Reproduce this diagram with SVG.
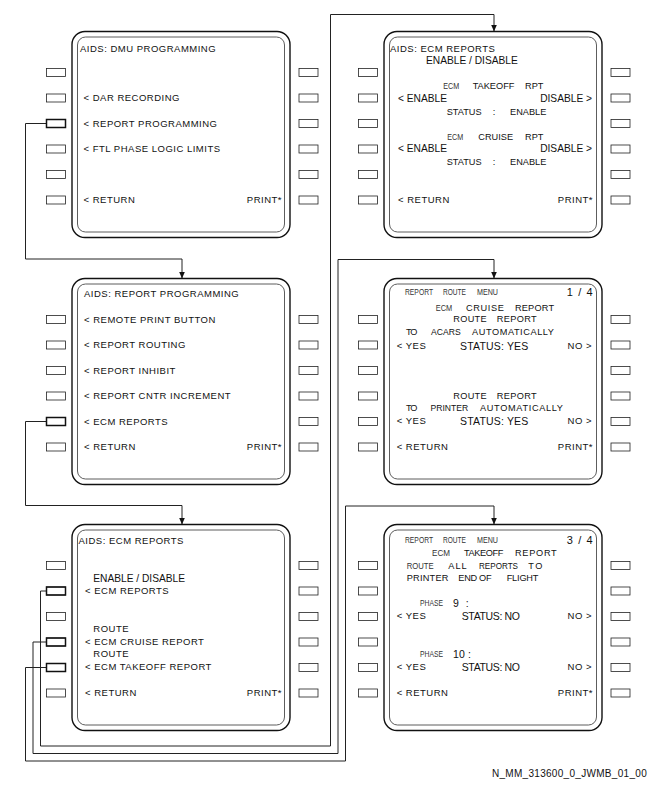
<svg xmlns="http://www.w3.org/2000/svg" xmlns:xlink="http://www.w3.org/1999/xlink" width="648" height="792" viewBox="0 0 648 792">
<style>
text{font-family:"Liberation Sans",Arial,Helvetica,sans-serif;fill:#111}
.t{font-size:9.5px;letter-spacing:0.5px}
.m{font-size:9.2px}
.l{font-size:10.2px}
.b{font-size:10.5px}
.s{font-size:8.6px;fill:#333}
.e{text-anchor:end}
.ob{fill:none;stroke:#111;stroke-width:1.4}
.ib{fill:none;stroke:#333;stroke-width:0.8}
.btn{fill:#fff;stroke:#222;stroke-width:0.8}
.act{fill:none;stroke:#111;stroke-width:1.5}
.cn{fill:none;stroke:#222;stroke-width:1}
</style>
<defs>
<marker id="ah" markerUnits="userSpaceOnUse" markerWidth="7" markerHeight="6" refX="7" refY="3" orient="auto">
<path d="M0,0 L7,3 L0,6 z" fill="#111"/>
</marker>
<g id="bezel">
<rect class="ob" x="0" y="0" width="218" height="206" rx="13"/>
<rect class="ib" x="5.5" y="5.5" width="207" height="195" rx="8"/>
<rect class="btn" x="-25.5" y="37" width="19" height="8"/>
<rect class="btn" x="-25.5" y="62.5" width="19" height="8"/>
<rect class="btn" x="-25.5" y="88" width="19" height="8"/>
<rect class="btn" x="-25.5" y="113.5" width="19" height="8"/>
<rect class="btn" x="-25.5" y="139" width="19" height="8"/>
<rect class="btn" x="-25.5" y="164.5" width="19" height="8"/>
<rect class="btn" x="227" y="37" width="19" height="8"/>
<rect class="btn" x="227" y="62.5" width="19" height="8"/>
<rect class="btn" x="227" y="88" width="19" height="8"/>
<rect class="btn" x="227" y="113.5" width="19" height="8"/>
<rect class="btn" x="227" y="139" width="19" height="8"/>
<rect class="btn" x="227" y="164.5" width="19" height="8"/>
</g>
</defs>
<rect width="648" height="792" fill="#fff"/>

<g id="connectors">
<path class="cn" d="M46.5,123.5 H25.5 V259 H182 V278.5" marker-end="url(#ah)"/>
<path class="cn" d="M46.5,421.5 H25.5 V505.5 H182 V524.5" marker-end="url(#ah)"/>
<path class="cn" d="M46.5,591 H40.5 V746 H330.5 V14.5 H494 V31.5" marker-end="url(#ah)"/>
<path class="cn" d="M46.5,642 H33 V753.5 H338 V259.5 H494 V278.5" marker-end="url(#ah)"/>
<path class="cn" d="M46.5,667.5 H25.5 V761 H345.5 V506 H494 V524.5" marker-end="url(#ah)"/>
</g>

<g id="panel-dmu-programming">
<use xlink:href="#bezel" href="#bezel" transform="translate(72,31.5)"/>
<rect class="act" x="46.5" y="119.5" width="19" height="8"/>
<text class="t" x="80" y="52.4">AIDS: DMU PROGRAMMING</text>
<text class="t" x="83.5" y="101.4">&lt; DAR RECORDING</text>
<text class="t" x="83.5" y="126.9">&lt; REPORT PROGRAMMING</text>
<text class="t" x="83.5" y="152.4">&lt; FTL PHASE LOGIC LIMITS</text>
<text class="t" x="83.5" y="203.4">&lt; RETURN</text>
<text class="t e" x="282" y="203.4">PRINT*</text>
</g>

<g id="panel-ecm-reports-enable">
<use xlink:href="#bezel" href="#bezel" transform="translate(384,31.5)"/>
<text class="t" x="390" y="51.7">AIDS: ECM REPORTS</text>
<text class="l" x="426" y="63.7">ENABLE / DISABLE</text>
<text class="s" x="443.3" y="89.4" textLength="16" lengthAdjust="spacingAndGlyphs">ECM</text>
<text class="m" x="472.7" y="89.4">TAKEOFF</text>
<text class="m" x="525" y="89.4">RPT</text>
<text class="l" x="398" y="102">&lt; ENABLE</text>
<text class="l e" x="592" y="102">DISABLE &gt;</text>
<text class="m" x="446.7" y="115.1">STATUS</text>
<text class="m" x="492.7" y="115.1">:</text>
<text class="m" x="510" y="115.1">ENABLE</text>
<text class="s" x="447.3" y="140.1" textLength="16" lengthAdjust="spacingAndGlyphs">ECM</text>
<text class="m" x="478.3" y="140.1">CRUISE</text>
<text class="m" x="525" y="140.1">RPT</text>
<text class="l" x="398" y="152">&lt; ENABLE</text>
<text class="l e" x="592" y="152">DISABLE &gt;</text>
<text class="m" x="446.7" y="165.1">STATUS</text>
<text class="m" x="492.7" y="165.1">:</text>
<text class="m" x="510" y="165.1">ENABLE</text>
<text class="t" x="398" y="203.4">&lt; RETURN</text>
<text class="t e" x="593" y="203.4">PRINT*</text>
</g>

<g id="panel-report-programming">
<use xlink:href="#bezel" href="#bezel" transform="translate(72,278.5)"/>
<rect class="act" x="46.5" y="417.5" width="19" height="8"/>
<text class="t" x="84" y="296.7">AIDS: REPORT PROGRAMMING</text>
<text class="t" x="84" y="322.9">&lt; REMOTE PRINT BUTTON</text>
<text class="t" x="84" y="348.4">&lt; REPORT ROUTING</text>
<text class="t" x="84" y="373.9">&lt; REPORT INHIBIT</text>
<text class="t" x="84" y="399.4">&lt; REPORT CNTR INCREMENT</text>
<text class="t" x="84" y="424.9">&lt; ECM REPORTS</text>
<text class="t" x="84" y="450.4">&lt; RETURN</text>
<text class="t e" x="282" y="450.4">PRINT*</text>
</g>

<g id="panel-route-menu-1">
<use xlink:href="#bezel" href="#bezel" transform="translate(384,278.5)"/>
<text class="s" x="405" y="295" textLength="28" lengthAdjust="spacingAndGlyphs">REPORT</text>
<text class="s" x="443" y="295" textLength="23" lengthAdjust="spacingAndGlyphs">ROUTE</text>
<text class="s" x="477" y="295" textLength="21" lengthAdjust="spacingAndGlyphs">MENU</text>
<text class="b" x="566.7" y="296.3" textLength="26" lengthAdjust="spacing" style="font-size:11px">1 / 4</text>
<text class="s" x="435.7" y="310.6" textLength="16.5" lengthAdjust="spacingAndGlyphs">ECM</text>
<text class="m" x="466" y="310.6" textLength="38" lengthAdjust="spacing">CRUISE</text>
<text class="m" x="515" y="310.6" textLength="39" lengthAdjust="spacing">REPORT</text>
<text class="m" x="453.3" y="321.6" textLength="33.3" lengthAdjust="spacing">ROUTE</text>
<text class="m" x="496.7" y="321.6" textLength="40" lengthAdjust="spacing">REPORT</text>
<text class="m" x="406" y="335" textLength="11.3" lengthAdjust="spacing">TO</text>
<text class="m" x="431" y="335" style="font-size:8.6px">ACARS</text>
<text class="m" x="472" y="335" textLength="82" lengthAdjust="spacing">AUTOMATICALLY</text>
<text class="t" x="396.7" y="349.1">&lt; YES</text>
<text class="b" x="460" y="349.5" textLength="68.3" lengthAdjust="spacing">STATUS: YES</text>
<text class="t e" x="592" y="349.1">NO &gt;</text>
<text class="m" x="453.3" y="399.3" textLength="33.3" lengthAdjust="spacing">ROUTE</text>
<text class="m" x="496.7" y="399.3" textLength="40" lengthAdjust="spacing">REPORT</text>
<text class="m" x="406" y="410.6" textLength="11.3" lengthAdjust="spacing">TO</text>
<text class="m" x="430.5" y="410.6" style="font-size:8.6px">PRINTER</text>
<text class="m" x="480" y="410.6" textLength="83" lengthAdjust="spacing">AUTOMATICALLY</text>
<text class="t" x="396.7" y="424.1">&lt; YES</text>
<text class="b" x="460" y="424.5" textLength="68.3" lengthAdjust="spacing">STATUS: YES</text>
<text class="t e" x="592" y="424.1">NO &gt;</text>
<text class="t" x="396.7" y="450.4">&lt; RETURN</text>
<text class="t e" x="593" y="450.4">PRINT*</text>
</g>

<g id="panel-ecm-reports">
<use xlink:href="#bezel" href="#bezel" transform="translate(72,524.5)"/>
<rect class="act" x="46.5" y="587" width="19" height="8"/>
<rect class="act" x="46.5" y="638" width="19" height="8"/>
<rect class="act" x="46.5" y="663.5" width="19" height="8"/>
<text class="t" x="78.5" y="544.4">AIDS: ECM REPORTS</text>
<text class="l" x="93.3" y="582">ENABLE / DISABLE</text>
<text class="t" x="85" y="594.4">&lt; ECM REPORTS</text>
<text class="t" x="93.3" y="631.7">ROUTE</text>
<text class="t" x="85" y="645.1">&lt; ECM CRUISE REPORT</text>
<text class="t" x="93.3" y="657.4">ROUTE</text>
<text class="t" x="85" y="670.4">&lt; ECM TAKEOFF REPORT</text>
<text class="t" x="85" y="696.4">&lt; RETURN</text>
<text class="t e" x="282" y="696.4">PRINT*</text>
</g>

<g id="panel-route-menu-3">
<use xlink:href="#bezel" href="#bezel" transform="translate(384,524.5)"/>
<text class="s" x="405" y="543" textLength="28" lengthAdjust="spacingAndGlyphs">REPORT</text>
<text class="s" x="443" y="543" textLength="23" lengthAdjust="spacingAndGlyphs">ROUTE</text>
<text class="s" x="477" y="543" textLength="21" lengthAdjust="spacingAndGlyphs">MENU</text>
<text class="b" x="566.7" y="543.7" textLength="26" lengthAdjust="spacing" style="font-size:11px">3 / 4</text>
<text class="s" x="432" y="555.6" textLength="18" lengthAdjust="spacingAndGlyphs">ECM</text>
<text class="m" x="464" y="555.6" textLength="39.3" lengthAdjust="spacing">TAKEOFF</text>
<text class="m" x="515" y="555.6" textLength="41.7" lengthAdjust="spacing">REPORT</text>
<text class="s" x="406.7" y="568.6" textLength="27" lengthAdjust="spacingAndGlyphs" style="font-size:9px">ROUTE</text>
<text class="m" x="448.3" y="568.6" textLength="18.4" lengthAdjust="spacing">ALL</text>
<text class="m" x="479" y="568.6" textLength="39" lengthAdjust="spacingAndGlyphs">REPORTS</text>
<text class="m" x="528.3" y="568.6" textLength="14" lengthAdjust="spacing">TO</text>
<text class="m" x="406.7" y="581.3" textLength="41.7" lengthAdjust="spacing">PRINTER</text>
<text class="m" x="458.3" y="581.3" textLength="33.3" lengthAdjust="spacing">END OF</text>
<text class="m" x="506.7" y="581.3" textLength="31.7" lengthAdjust="spacing">FLIGHT</text>
<text class="s" x="420" y="606" textLength="23" lengthAdjust="spacingAndGlyphs">PHASE</text>
<text class="b" x="453" y="606.6" textLength="15.6" lengthAdjust="spacing">9 :</text>
<text class="t" x="396.7" y="619.2">&lt; YES</text>
<text class="b" x="461.7" y="619.5" textLength="58.3" lengthAdjust="spacing">STATUS: NO</text>
<text class="t e" x="592" y="619.2">NO &gt;</text>
<text class="s" x="420" y="657" textLength="23" lengthAdjust="spacingAndGlyphs">PHASE</text>
<text class="b" x="453" y="657.6" textLength="18" lengthAdjust="spacing">10 :</text>
<text class="t" x="396.7" y="670.4">&lt; YES</text>
<text class="b" x="461.7" y="670.7" textLength="58.3" lengthAdjust="spacing">STATUS: NO</text>
<text class="t e" x="592" y="670.4">NO &gt;</text>
<text class="t" x="396.7" y="696.4">&lt; RETURN</text>
<text class="t e" x="593" y="696.4">PRINT*</text>
</g>

<text x="647" y="777" class="e" style="font-size:10px;letter-spacing:0.3px">N_MM_313600_0_JWMB_01_00</text>
</svg>
